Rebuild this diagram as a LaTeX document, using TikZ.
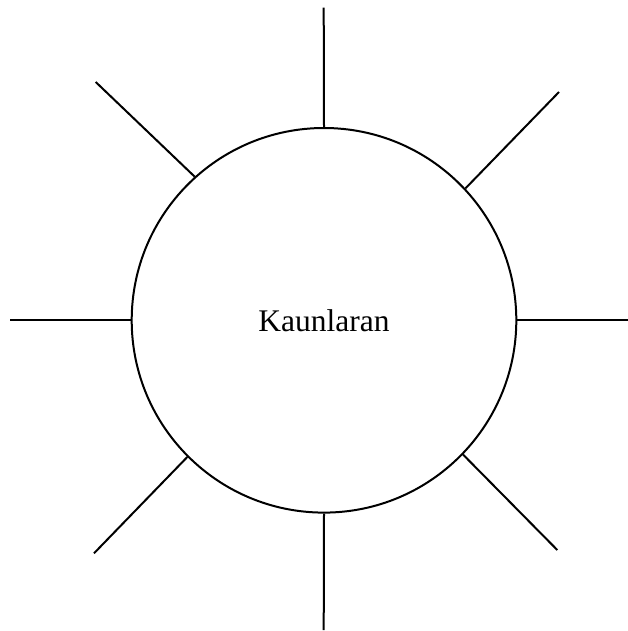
\documentclass[tikz,border=0pt]{standalone}
\usepackage{fontspec}
\setmainfont{Liberation Serif}
\begin{document}
\begin{tikzpicture}[x=1pt,y=-1pt,line width=2pt,
  spoke/.style={draw=black,line width=2pt},
  hub/.style={circle,draw=black,line width=2pt,minimum size=384.6pt,inner sep=0pt,font=\fontsize{31.5}{36}\selectfont}]
\useasboundingbox (0,0) rectangle (628,631);
\node[hub] (c) at (324,320.3) {Kaunlaran};
\coordinate (n) at (323.7,7.7);
\coordinate (s) at (323.7,630);
\coordinate (w) at (10,320.3);
\coordinate (e) at (628,320.3);
\coordinate (nw) at (95.7,82);
\coordinate (ne) at (559,92);
\coordinate (sw) at (94,553.3);
\coordinate (se) at (557.3,550);
\draw[spoke] (c.north) -- (n);
\draw[spoke] (c.south) -- (s);
\draw[spoke] (c.west) -- (w);
\draw[spoke] (c.east) -- (e);
\draw[spoke] (c.132.8) -- (nw);
\draw[spoke] (c.43.7) -- (ne);
\draw[spoke] (c.225.7) -- (sw);
\draw[spoke] (c.316) -- (se);
\end{tikzpicture}
\end{document}
